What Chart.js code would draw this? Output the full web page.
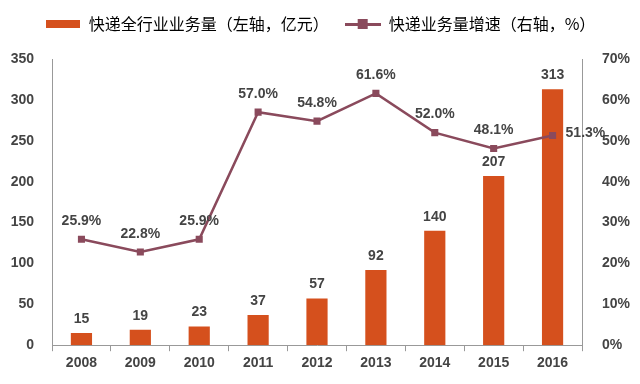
<!DOCTYPE html>
<html><head><meta charset="utf-8">
<script src="https://cdn.jsdelivr.net/npm/chart.js@4/dist/chart.umd.min.js"></script>
<style>html,body{margin:0;padding:0;background:#fff;}#wrap{width:640px;height:384px;}</style>
</head><body><div id="wrap"><canvas id="c" width="640" height="384"></canvas></div>
<script>
const years = ['2008','2009','2010','2011','2012','2013','2014','2015','2016'];
const volume = [15,19,23,37,57,92,140,207,313];
const growth = [25.9,22.8,25.9,57.0,54.8,61.6,52.0,48.1,51.3];
const barName = '快递全行业业务量（左轴，亿元）';
const lineName = '快递业务量增速（右轴，%）';

const BAR_C = '#D5501D';
const LINE_C = '#8A4A5C';
const TXT = '#444';
const FONT = 'Liberation Sans, Arial, sans-serif';

function swatchBar() {
  const c = document.createElement('canvas'); c.width = 34; c.height = 8;
  const x = c.getContext('2d'); x.fillStyle = BAR_C; x.fillRect(0, 0, 34, 8); return c;
}
function swatchLine() {
  const c = document.createElement('canvas'); c.width = 36; c.height = 12;
  const x = c.getContext('2d'); x.fillStyle = LINE_C; x.fillRect(0, 5, 36, 3); x.fillRect(13, 1, 10, 10); return c;
}

const labelPlugin = {
  id: 'labels',
  beforeInit(chart) {
    const lg = chart.legend;
    if (lg) {
      const fit = lg.fit;
      lg.fit = function() { fit.call(this); this.height = 59; };
    }
  },
  afterDatasetsDraw(chart) {
    const ctx = chart.ctx;
    ctx.save();
    ctx.font = 'bold 14px ' + FONT;
    ctx.fillStyle = TXT;
    ctx.textAlign = 'center';
    ctx.textBaseline = 'bottom';
    const bm = chart.getDatasetMeta(0);
    bm.data.forEach((el, i) => {
      ctx.fillText(String(volume[i]), el.x, el.y - 7);
    });
    const lm = chart.getDatasetMeta(1);
    lm.data.forEach((el, i) => {
      const t = growth[i].toFixed(1) + '%';
      if (i === growth.length - 1) {
        ctx.textAlign = 'left';
        ctx.textBaseline = 'middle';
        ctx.fillText(t, el.x + 13, el.y - 2);
        ctx.textAlign = 'center';
        ctx.textBaseline = 'bottom';
      } else {
        ctx.fillText(t, el.x, el.y - 11);
      }
    });
    ctx.restore();
  }
};

const sb = swatchBar(), sl = swatchLine();

new Chart(document.getElementById('c'), {
  data: {
    labels: years,
    datasets: [
      { type: 'bar', label: barName, data: volume, backgroundColor: BAR_C, yAxisID: 'y', order: 2,
        categoryPercentage: 1, barPercentage: 0.36 },
      { type: 'line', label: lineName, data: growth, borderColor: LINE_C, backgroundColor: LINE_C,
        borderWidth: 2.5, pointStyle: 'rect', pointRadius: 5, pointBorderWidth: 0, yAxisID: 'y1', order: 1, tension: 0 }
    ]
  },
  options: {
    responsive: false,
    animation: false,
    devicePixelRatio: 1,
    layout: { padding: { top: 0, left: 0, right: 0, bottom: 8 } },
    plugins: {
      tooltip: { enabled: false },
      legend: {
        position: 'top',
        labels: {
          font: { family: '"Noto Sans CJK SC", sans-serif', size: 16 },
          color: '#333',
          usePointStyle: true,
          pointStyleWidth: 36,
          boxHeight: 12,
          padding: 16,
          generateLabels(chart) {
            return [
              { text: barName, fillStyle: BAR_C, strokeStyle: BAR_C, lineWidth: 0, datasetIndex: 0, pointStyle: sb },
              { text: lineName, fillStyle: LINE_C, strokeStyle: LINE_C, lineWidth: 0, datasetIndex: 1, pointStyle: sl }
            ];
          }
        }
      }
    },
    scales: {
      x: {
        offset: true,
        grid: { display: true, drawOnChartArea: false, drawTicks: true, tickLength: 6, color: '#999', offset: true },
        border: { display: true, color: '#999' },
        ticks: { color: TXT, font: { family: FONT, size: 14, weight: 'bold' }, padding: 4 }
      },
      y: {
        position: 'left', min: 0, max: 350,
        grid: { display: false },
        border: { display: true, color: '#999' },
        ticks: { stepSize: 50, color: TXT, font: { family: FONT, size: 14, weight: 'bold' }, padding: 10 },
        afterFit(s) { s.width = 52; }
      },
      y1: {
        position: 'right', min: 0, max: 70,
        grid: { display: false },
        border: { display: true, color: '#999' },
        ticks: { stepSize: 10, color: TXT, font: { family: FONT, size: 14, weight: 'bold' }, padding: 12,
          callback: v => v + '%' },
        afterFit(s) { s.width = 58; }
      }
    }
  },
  plugins: [labelPlugin]
});
</script></body></html>
